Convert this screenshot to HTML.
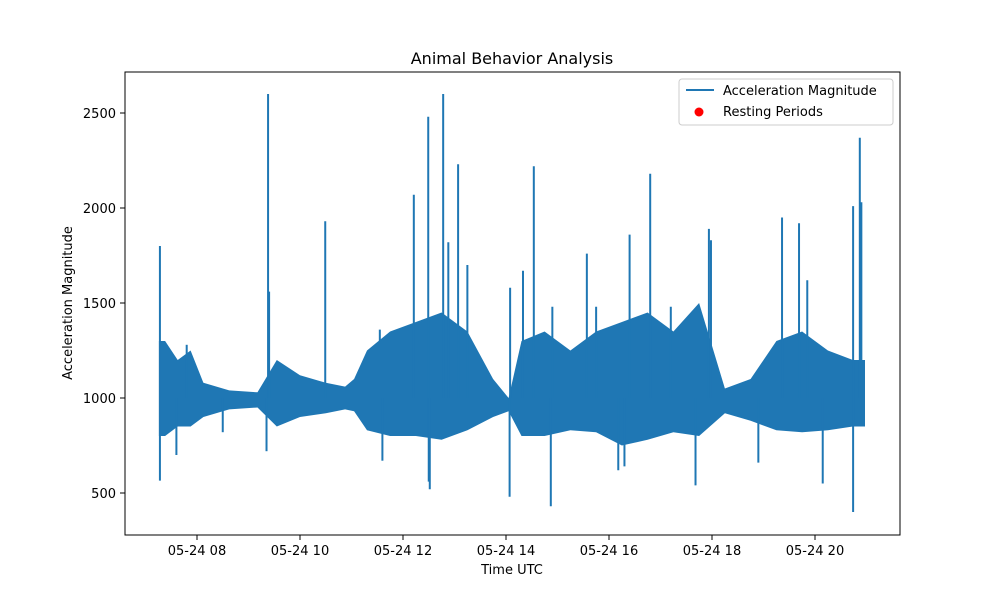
<!DOCTYPE html>
<html><head><meta charset="utf-8"><style>
body{margin:0;background:#fff;font-family:"Liberation Sans","DejaVu Sans",sans-serif}
svg text{font-family:"DejaVu Sans","Liberation Sans",sans-serif;fill:#000}
</style></head><body>
<svg id="chart" width="1000" height="600" xmlns="http://www.w3.org/2000/svg">
<rect width="1000" height="600" fill="#fff"/>
<g id="plot"></g>
<rect x="125" y="72" width="775" height="463" fill="none" stroke="#000" stroke-width="1"/>
<g id="xticks"></g><g id="yticks"></g>
<text x="512" y="64" font-size="16" text-anchor="middle">Animal Behavior Analysis</text>
<text x="512" y="574" font-size="13" text-anchor="middle">Time UTC</text>
<text transform="translate(72,303) rotate(-90)" font-size="13" text-anchor="middle">Acceleration Magnitude</text>
<g>
<rect x="679" y="79" width="214" height="46" fill="#fff" fill-opacity="0.8" stroke="#ccc" rx="3"/>
<line x1="686" y1="90" x2="714" y2="90" stroke="#1f77b4" stroke-width="2"/>
<text x="723" y="95" font-size="13">Acceleration Magnitude</text>
<circle cx="699" cy="112" r="4.5" fill="red"/>
<text x="723" y="116" font-size="13">Resting Periods</text>
</g>
</svg>
<script>
const binStart=[7.26,7.5,7.75,8.0,8.25,9.0,9.35,9.75,10.25,10.75,11.0,11.1,11.5,12.0,12.5,13.0,13.5,14.0,14.1,14.5,15.0,15.5,16.0,16.5,17.0,17.5,18.0,18.5,19.0,19.5,20.0,20.5];
const binEnd=[7.5,7.75,8.0,8.25,9.0,9.35,9.75,10.25,10.75,11.0,11.1,11.5,12.0,12.5,13.0,13.5,14.0,14.1,14.5,15.0,15.5,16.0,16.5,17.0,17.5,18.0,18.5,19.0,19.5,20.0,20.5,20.97];
const binHigh=[1300,1200,1250,1080,1040,1030,1200,1120,1080,1060,1100,1250,1350,1400,1450,1350,1100,1000,1300,1350,1250,1350,1400,1450,1350,1500,1050,1100,1300,1350,1250,1200];
const binLow=[800,850,850,900,940,950,850,900,920,940,930,830,800,800,780,830,900,930,800,800,830,820,750,780,820,800,920,880,830,820,830,850];
const spikeTimes=[7.28,7.8,9.38,9.4,10.49,11.55,12.21,12.49,12.78,12.88,13.07,13.25,14.08,14.33,14.54,14.9,15.57,15.75,16.4,16.8,17.2,17.94,17.98,19.36,19.69,19.85,20.74,20.87,20.9];
const spikeHigh=[1800,1280,2600,1560,1930,1360,2070,2480,2600,1820,2230,1700,1580,1670,2220,1480,1760,1480,1860,2180,1480,1890,1830,1950,1920,1620,2010,2370,2030];
const dipTimes=[7.28,7.6,8.5,9.35,11.6,12.5,12.52,14.07,14.87,16.18,16.3,17.68,18.9,20.15,20.74];
const dipLow=[565,700,820,720,670,560,520,480,430,620,640,540,660,550,400];
const xTicks=[8,10,12,14,16,18,20];
const xTickLabels=["05-24 08","05-24 10","05-24 12","05-24 14","05-24 16","05-24 18","05-24 20"];
const yTicks=[500,1000,1500,2000,2500];
const X=h=>197+(h-8)*51.5;
const Y=v=>398-(v-1000)*0.19;
const NS="http://www.w3.org/2000/svg";
const plot=document.getElementById('plot');
function mk(t,a,p){const e=document.createElementNS(NS,t);for(const k in a)e.setAttribute(k,a[k]);p.appendChild(e);return e;}
const upperPts=[],lowerPts=[];
upperPts.push([X(binStart[0]),Y(binHigh[0])]);lowerPts.push([X(binStart[0]),Y(binLow[0])]);
binStart.forEach((s,i)=>{const m=X((s+binEnd[i])/2);upperPts.push([m,Y(binHigh[i])]);lowerPts.push([m,Y(binLow[i])]);});
const lastIdx=binEnd.length-1;
upperPts.push([X(binEnd[lastIdx]),Y(binHigh[lastIdx])]);lowerPts.push([X(binEnd[lastIdx]),Y(binLow[lastIdx])]);
const pts=upperPts.concat(lowerPts.slice().reverse()).map(p=>p[0].toFixed(1)+','+p[1].toFixed(1)).join(' ');
const band=mk('polygon',{points:pts,fill:'#1f77b4'},plot);


spikeTimes.forEach((t,i)=>{
 const l=mk('line',{x1:X(t),x2:X(t),y1:Y(1000),y2:Y(spikeHigh[i]),stroke:'#1f77b4','stroke-width':2},plot);
 
 
});
dipTimes.forEach((t,i)=>{
 const l=mk('line',{x1:X(t),x2:X(t),y1:Y(1000),y2:Y(dipLow[i]),stroke:'#1f77b4','stroke-width':2},plot);
 
 
});
const xg=document.getElementById('xticks');
xTicks.forEach((h,i)=>{
 const l=mk('line',{x1:X(h),x2:X(h),y1:535,y2:540,stroke:'#000'},xg);
 
 
 const t=mk('text',{x:X(h),y:555,'font-size':13,'text-anchor':'middle'},xg);
 t.textContent=xTickLabels[i];
 
 
});
const yg=document.getElementById('yticks');
yTicks.forEach(v=>{
 const l=mk('line',{x1:120,x2:125,y1:Y(v),y2:Y(v),stroke:'#000'},yg);
 
 
 const t=mk('text',{x:116,y:Y(v)+5,'font-size':13,'text-anchor':'end'},yg);
 t.textContent=v;
 
 
});
</script>
</body></html>
